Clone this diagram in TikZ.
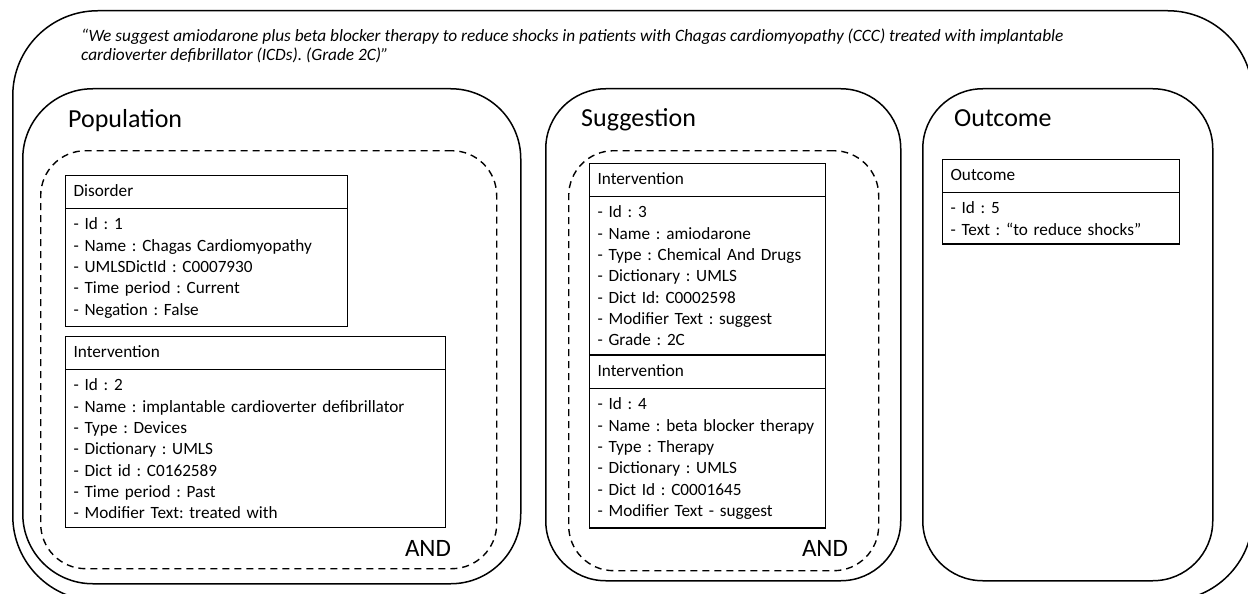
\documentclass[tikz,border=0pt]{standalone}
\usepackage{fontspec}
\setmainfont{Carlito}
\usetikzlibrary{shapes.multipart,positioning}
\frenchspacing
\hyphenpenalty=10000

\begin{document}
\begin{tikzpicture}[x=1pt,y=-1pt,
	panel/.style={draw,line width=1.5pt,rounded corners=#1,anchor=north west,inner sep=0pt},
	panel/.default=60pt,
	group/.style={draw,line width=1.4pt,dash pattern=on 7pt off 5pt,rounded corners=45pt,anchor=north west,inner sep=0pt},
	umlclass/.style={draw,line width=1.2pt,rectangle split,rectangle split parts=2,anchor=north west,align=left,
		inner xsep=8pt,inner ysep=8pt,font=\fontsize{17.2}{21.3}\selectfont,
		execute at begin node={\rule[-3.5pt]{0pt}{16pt}}},
	title/.style={anchor=base west,inner sep=0pt,font=\fontsize{26}{30}\selectfont},
	andlabel/.style={inner sep=0pt,font=\fontsize{25}{28}\selectfont}]
\useasboundingbox (0,0) rectangle (1248,594);

% whole recommendation
\node [panel=85pt,minimum width=1240pt,minimum height=590pt] (statement) at (12,10) {};
\node [anchor=base west,align=left,inner sep=0pt,font=\fontsize{17.3}{19.5}\selectfont\itshape] (quote) at (81,60)
	{“We suggest amiodarone plus beta blocker therapy to reduce shocks in patients with Chagas cardiomyopathy (CCC) treated with implantable\\[-0.5pt]
	cardioverter defibrillator (ICDs). (Grade 2C)”};

% population
\node [panel=70pt,minimum width=498pt,minimum height=495pt] (population) at (22,88) {};
\node [title] (poptitle) at (68,127) {Population};
\node [group,minimum width=456pt,minimum height=418pt] (popgroup) at (40,150) {};
\node [umlclass,text width=266pt] (disorder) at (65,175) {Disorder
	\nodepart{second}
	- Id : 1\\
	- Name : Chagas Cardiomyopathy\\
	- UMLSDictId : C0007930\\
	- Time period : Current\\
	- Negation : False};
\node [umlclass,text width=364pt] (icd) at (65,336) {Intervention
	\nodepart{second}
	- Id : 2\\
	- Name : implantable cardioverter defibrillator\\
	- Type : Devices\\
	- Dictionary : UMLS\\
	- Dict id : C0162589\\
	- Time period : Past\\
	- Modifier Text: treated with};
\node [andlabel] (popand) at (428,548) {AND};

% suggestion
\node [panel=60pt,minimum width=355pt,minimum height=492pt] (suggestion) at (545,88) {};
\node [title] (sugtitle) at (581,126) {Suggestion};
\node [group,minimum width=310pt,minimum height=420pt] (suggroup) at (568,150) {};
\node [umlclass,text width=220pt] (amiodarone) at (589,163) {Intervention
	\nodepart{second}
	- Id : 3\\
	- Name : amiodarone\\
	- Type : Chemical And Drugs\\
	- Dictionary : UMLS\\
	- Dict Id: C0002598\\
	- Modifier Text : suggest\\
	- Grade : 2C};
\node [umlclass,text width=220pt,below=0pt of amiodarone] (betablocker) {Intervention
	\nodepart{second}
	- Id : 4\\
	- Name : beta blocker therapy\\
	- Type : Therapy\\
	- Dictionary : UMLS\\
	- Dict Id : C0001645\\
	- Modifier Text - suggest};
\node [andlabel] (sugand) at (825,548) {AND};

% outcome
\node [panel=60pt,minimum width=290pt,minimum height=492pt] (outcome) at (922,88) {};
\node [title] (outtitle) at (954,126) {Outcome};
\node [umlclass,text width=221pt] (shocks) at (942,159) {Outcome
	\nodepart{second}
	- Id : 5\\
	- Text : “to reduce shocks”};

\end{tikzpicture}
\end{document}
